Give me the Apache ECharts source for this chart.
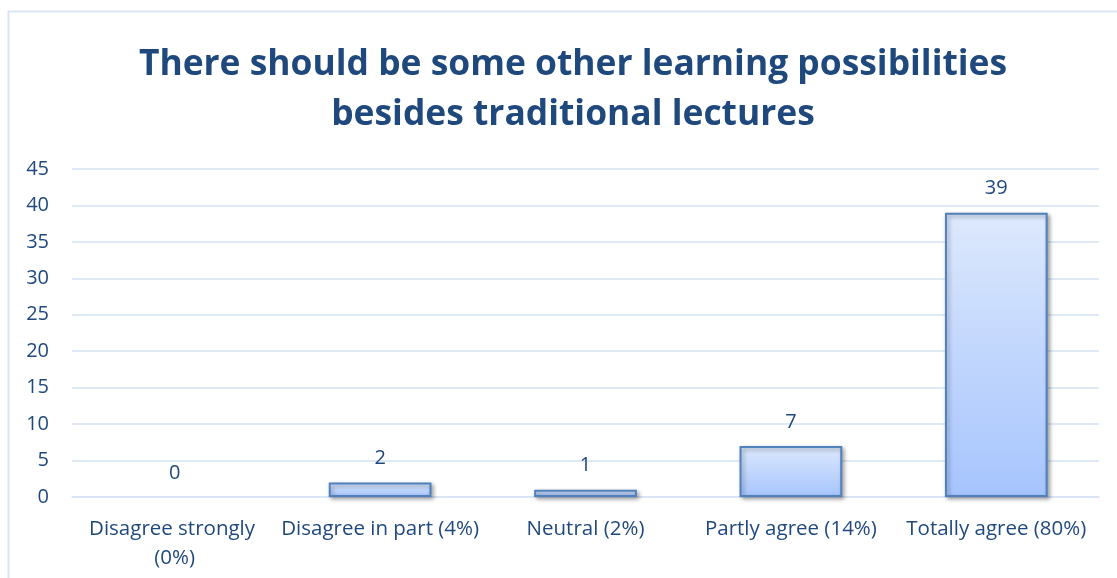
<!DOCTYPE html>
<html>
<head>
<meta charset="utf-8">
<script src="https://cdn.jsdelivr.net/npm/echarts@6/dist/echarts.min.js"></script>
<style>
  html, body { margin: 0; padding: 0; background: #ffffff; }
  #chart { width: 1117px; height: 578px; }
</style>
</head>
<body>
<div id="chart"></div>
<script>
// datos
const categorias = ['Disagree strongly (0%)', 'Disagree in part (4%)', 'Neutral (2%)', 'Partly agree (14%)', 'Totally agree (80%)'];
const respuestas = [0, 2, 1, 7, 39];
const titulo = 'There should be some other learning possibilities\nbesides traditional lectures';

const textoAzul = '#1f497d';
const lineaAzul = '#d6e3f4';
const fuente = '"Open Sans", Lato, sans-serif';

// barras con valor 0 no muestran borde
const datosBarras = respuestas.map(v => v === 0
    ? { value: v, itemStyle: { borderWidth: 0, shadowBlur: 0, shadowOffsetX: 0, shadowOffsetY: 0, opacity: 0 } }
    : v);

const chart = echarts.init(document.getElementById('chart'));
chart.setOption({
    backgroundColor: '#ffffff',
    textStyle: { fontFamily: fuente },
    graphic: [{
        type: 'rect',
        shape: { x: 8.5, y: 11.5, width: 1200, height: 700 },
        style: { fill: 'none', stroke: '#d9e5f3', lineWidth: 2 },
        silent: true
    }],
    title: {
        text: titulo,
        left: 568,
        textAlign: 'center',
        top: 35,
        textStyle: { color: textoAzul, fontSize: 35.4, fontWeight: 'bold', lineHeight: 50, fontFamily: fuente }
    },
    grid: { left: 72, right: 18, top: 169, bottom: 81 },
    xAxis: {
        type: 'category',
        data: categorias,
        axisLine: { lineStyle: { color: lineaAzul, width: 1.5 } },
        axisTick: { show: false },
        axisLabel: {
            color: textoAzul, fontSize: 20.5, margin: 18, lineHeight: 29,
            interval: 0, width: 205, overflow: 'break'
        }
    },
    yAxis: {
        type: 'value',
        min: 0, max: 45, interval: 5,
        axisLine: { show: false },
        axisTick: { show: false },
        axisLabel: { color: textoAzul, fontSize: 20, margin: 23 },
        splitLine: { lineStyle: { color: lineaAzul, width: 1.5 } }
    },
    series: [{
        type: 'bar',
        data: datosBarras,
        barWidth: '50%',
        itemStyle: {
            color: new echarts.graphic.LinearGradient(0, 0, 0, 1, [
                { offset: 0, color: '#dde9fd' },
                { offset: 1, color: '#a6c4fd' }
            ]),
            borderColor: '#4f81bd',
            borderWidth: 2,
            shadowColor: 'rgba(0,0,0,0.35)',
            shadowBlur: 4,
            shadowOffsetX: 2,
            shadowOffsetY: 2
        },
        label: {
            show: true, position: 'top', distance: 14,
            color: textoAzul, fontSize: 20, opacity: 1
        },
        animation: false
    }]
});

window.addEventListener('resize', () => chart.resize());
</script>
</body>
</html>
